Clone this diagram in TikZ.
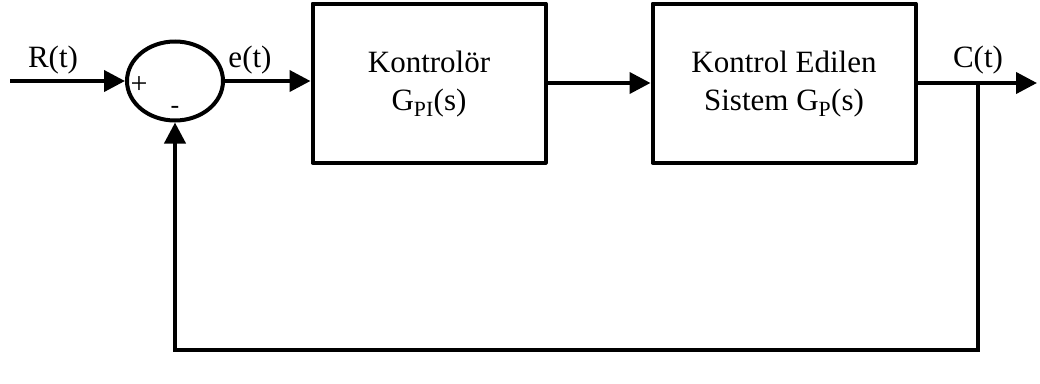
\documentclass[tikz,border=0pt]{standalone}
\usepackage{fontspec}
\setmainfont{Liberation Serif}
\usetikzlibrary{arrows.meta,shapes.geometric}
\begin{document}
\begin{tikzpicture}[x=1pt,y=-1pt,
  line width=4pt,
  sig/.style={-{Triangle[length=21pt,width=21pt]}},
  block/.style={draw,rectangle,inner sep=0pt,line join=round},
  lbl/.style={font=\fontsize{31}{36}\selectfont,inner sep=0pt},
  plussign/.style={font=\fontsize{30}{34}\selectfont,inner sep=0pt},
  minussign/.style={font=\fontsize{26}{30}\selectfont,inner sep=0pt},
  btext/.style={font=\fontsize{31}{38}\selectfont,align=center,inner sep=0pt}]
\useasboundingbox (0,0) rectangle (1040,383);
% summing junction
\node[draw,ellipse,minimum width=96pt,minimum height=79pt,inner sep=0pt] (sum) at (175,81) {};
% blocks
\node[block,minimum width=233pt,minimum height=159pt] (ctrl) at (429,83) {};
\node[block,minimum width=263pt,minimum height=159pt] (plant) at (784,83) {};
\node[btext] at (429,84) {Kontrolör\\G\textsubscript{PI}(s)};
\node[btext] at (784,84) {Kontrol Edilen\\Sistem G\textsubscript{P}(s)};
% signal ends
\coordinate (in) at (10,81);
\coordinate (out) at (1037,83);
\coordinate (br) at (978,83);
\coordinate (c1) at (978,350);
\coordinate (c2) at (175,350);
% labels
\node[lbl] at (53,60) {R(t)};
\node[lbl] at (250,60) {e(t)};
\node[lbl] at (978,60) {C(t)};
\node[plussign] at (139,85) {+};
\node[minussign] at (175,110) {-};
% connectors
\draw[sig] (in) -- (sum.west);
\draw[sig] (sum.east) -- (sum.east -| ctrl.west);
\draw[sig] (ctrl.east) -- (plant.west);
\draw[sig] (plant.east) -- (out);
\draw[sig,line join=miter] (br) -- (c1) -- (c2) -- (sum.south);
\end{tikzpicture}
\end{document}
